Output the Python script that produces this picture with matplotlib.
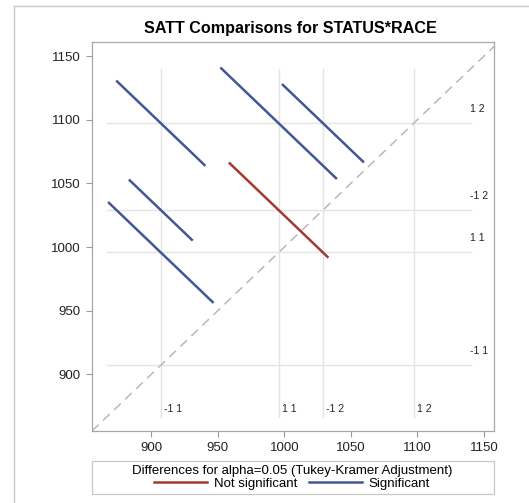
import matplotlib
matplotlib.use("Agg")
import matplotlib.pyplot as plt
from matplotlib.lines import Line2D
from matplotlib.patches import Rectangle

plt.rcParams['font.family'] = ['Liberation Sans', 'DejaVu Sans']

# LS means for STATUS*RACE levels
levels = ["-1 1", "1 1", "-1 2", "1 2"]
lsmeans = [907.2, 995.7, 1029.0, 1097.2]

# pairwise comparisons: (lower level, higher level, CI half-width)
pair_lo = ["-1 1", "-1 1", "-1 1", "1 1", "1 1", "-1 2"]
pair_hi = ["1 1", "-1 2", "1 2", "-1 2", "1 2", "1 2"]
half_width = [39.6, 24.0, 33.5, 37.4, 43.8, 30.8]

ticks = [900, 950, 1000, 1050, 1100, 1150]
lims_x = (855.5, 1157.5)
lims_y = (855.5, 1161.0)

red = '#A23A2E'
blue = '#445694'

fig = plt.figure(figsize=(5.29, 5.03), dpi=100)
ax = fig.add_axes([92 / 529, 1 - 431 / 503, 402 / 529, 389 / 503])

mean_of = dict(zip(levels, lsmeans))
ref_lo, ref_hi = 866.5, 1140.0

# reference lines for each level
for lev, m in zip(levels, lsmeans):
    ax.plot([ref_lo, ref_hi], [m, m], color='#e4e4e4', lw=1, zorder=1)
    ax.plot([m, m], [ref_lo, ref_hi], color='#e4e4e4', lw=1, zorder=1)
    ax.annotate(lev, xy=(1, m), xycoords=('axes fraction', 'data'),
                xytext=(-17.5, 6.5), textcoords='offset points',
                fontsize=7.5, va='bottom', ha='left', color='#222222')
    ax.annotate(lev, xy=(m, 872.5), xytext=(2.5, 0), textcoords='offset points',
                fontsize=7.5, va='center', ha='left', color='#222222')

# diagonal
ax.plot([lims_x[0], lims_x[1]], [lims_x[0], lims_x[1]], color='#b8b8b8',
        lw=1.1, ls=(0, (6, 4)), zorder=2)

# diffogram segments
for lo, hi, h in zip(pair_lo, pair_hi, half_width):
    x0, y0 = mean_of[lo], mean_of[hi]
    sig = (y0 - x0) > 2 * h
    ax.plot([x0 - h, x0 + h], [y0 + h, y0 - h], color=blue if sig else red,
            lw=1.8, solid_capstyle='butt', zorder=3)

ax.set_xlim(*lims_x)
ax.set_ylim(*lims_y)
ax.set_xticks(ticks)
ax.set_yticks(ticks)
ax.tick_params(length=4, width=0.8, color='#9a9a9a', labelsize=9.5,
               labelcolor='#222222', pad=4)
for s in ax.spines.values():
    s.set_color('#a8a8a8')
    s.set_linewidth(0.9)

fig.text(290 / 529, 1 - 28.5 / 503, 'SATT Comparisons for STATUS*RACE',
         ha='center', va='center', fontsize=11.6, fontweight='bold')

# legend box
fig.patches.append(Rectangle((92 / 529, 1 - 494 / 503), 402 / 529, 33 / 503,
                             transform=fig.transFigure, fill=False,
                             edgecolor='#c8c8c8', lw=0.9))
handles = [Line2D([], [], color=red, lw=1.8), Line2D([], [], color=blue, lw=1.8)]
fig.legend(handles, ['Not significant', 'Significant'], ncol=2, frameon=False,
           title='Differences for alpha=0.05 (Tukey-Kramer Adjustment)',
           title_fontsize=9.5, fontsize=9.5, loc='center',
           bbox_to_anchor=(292 / 529, 1 - 477.5 / 503), handlelength=4.0,
           handletextpad=0.5, columnspacing=0.9, borderpad=0, labelspacing=0)

# outer border
fig.add_artist(Line2D([14 / 529, 14 / 529], [0, 1 - 6 / 503],
                      transform=fig.transFigure, color='#c8c8c8', lw=1))
fig.add_artist(Line2D([14 / 529, 1], [1 - 6 / 503, 1 - 6 / 503],
                      transform=fig.transFigure, color='#c8c8c8', lw=1))

fig.savefig('out.png', dpi=100)
